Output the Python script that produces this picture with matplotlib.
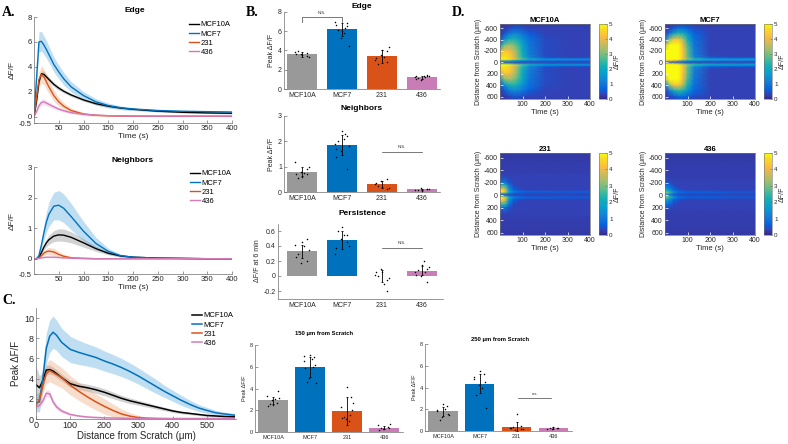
import numpy as np
import matplotlib
matplotlib.use("Agg")
import matplotlib.pyplot as plt
from matplotlib.colors import LinearSegmentedColormap

plt.rcParams["font.family"] = ["Liberation Sans", "DejaVu Sans"]
plt.rcParams["axes.unicode_minus"] = False

# ---------------- data ----------------
groups = ["MCF10A", "MCF7", "231", "436"]

# A: mean dF/F traces (+ SEM) vs time
t_s = [0, 5, 10, 15, 20, 25, 30, 40, 50, 60, 75, 100, 125, 150, 175, 200, 250, 300, 350, 400]

edge_10a = [0, 1.2, 2.8, 3.45, 3.4, 3.2, 3.0, 2.6, 2.3, 2.05, 1.75, 1.35, 1.05, 0.85, 0.7, 0.6, 0.45, 0.36, 0.31, 0.28]
edge_10a_sem = [0, 0.1, 0.2, 0.25, 0.25, 0.22, 0.2, 0.18, 0.16, 0.15, 0.13, 0.11, 0.1, 0.09, 0.08, 0.07, 0.06, 0.06, 0.05, 0.05]
edge_mcf7 = [0, 3.0, 6.0, 6.05, 5.75, 5.4, 5.0, 4.2, 3.6, 3.05, 2.4, 1.7, 1.2, 0.9, 0.72, 0.62, 0.5, 0.44, 0.41, 0.38]
edge_mcf7_sem = [0, 0.4, 0.8, 0.8, 0.75, 0.7, 0.65, 0.6, 0.55, 0.5, 0.42, 0.32, 0.25, 0.2, 0.15, 0.12, 0.1, 0.09, 0.08, 0.08]
edge_231 = [0, 1.5, 3.0, 3.4, 3.2, 2.8, 2.4, 1.7, 1.2, 0.85, 0.5, 0.22, 0.12, 0.08, 0.06, 0.05, 0.04, 0.04, 0.04, 0.04]
edge_231_sem = [0, 0.3, 0.6, 0.7, 0.65, 0.6, 0.55, 0.45, 0.35, 0.28, 0.2, 0.12, 0.08, 0.05, 0.04, 0.03, 0.03, 0.03, 0.03, 0.03]
edge_436 = [0, 0.4, 0.9, 1.15, 1.2, 1.1, 1.0, 0.8, 0.62, 0.48, 0.33, 0.2, 0.13, 0.09, 0.07, 0.06, 0.05, 0.05, 0.05, 0.05]
edge_436_sem = [0, 0.1, 0.2, 0.25, 0.25, 0.22, 0.2, 0.17, 0.14, 0.12, 0.09, 0.06, 0.04, 0.03, 0.03, 0.02, 0.02, 0.02, 0.02, 0.02]

nb_10a = [0, 0, 0.05, 0.2, 0.38, 0.52, 0.62, 0.74, 0.78, 0.77, 0.7, 0.52, 0.33, 0.18, 0.09, 0.05, 0.02, 0.01, 0, 0]
nb_10a_sem = [0, 0, 0.02, 0.07, 0.1, 0.13, 0.15, 0.18, 0.2, 0.2, 0.18, 0.14, 0.09, 0.05, 0.03, 0.02, 0.01, 0.01, 0, 0]
nb_mcf7 = [0, 0, 0.1, 0.45, 0.85, 1.2, 1.45, 1.72, 1.75, 1.65, 1.38, 0.9, 0.5, 0.24, 0.1, 0.05, 0.02, 0.01, 0, 0]
nb_mcf7_sem = [0, 0, 0.05, 0.15, 0.25, 0.33, 0.4, 0.45, 0.48, 0.47, 0.43, 0.32, 0.2, 0.1, 0.05, 0.03, 0.01, 0, 0, 0]
nb_231 = [0, 0, 0.03, 0.1, 0.18, 0.23, 0.25, 0.22, 0.14, 0.08, 0.03, 0.01, 0, 0, 0, 0, 0, 0, 0, 0]
nb_231_sem = [0, 0, 0.02, 0.05, 0.08, 0.1, 0.12, 0.12, 0.1, 0.07, 0.04, 0.02, 0.01, 0, 0, 0, 0, 0, 0, 0]
nb_436 = [0, 0, 0.01, 0.03, 0.04, 0.05, 0.05, 0.05, 0.04, 0.03, 0.02, 0.01, 0, 0, 0, 0, 0, 0, 0, 0]
nb_436_sem = [0, 0, 0.01, 0.02, 0.02, 0.02, 0.02, 0.02, 0.02, 0.02, 0.01, 0.01, 0, 0, 0, 0, 0, 0, 0, 0]

# C: peak dF/F vs distance from scratch
dist_um = [0, 10, 20, 30, 40, 50, 60, 75, 100, 125, 150, 175, 200, 225, 250, 275, 300, 325,
           350, 375, 400, 425, 450, 475, 500, 525, 550, 580]
pk_10a = [3.4, 3.1, 3.8, 4.85, 4.9, 4.75, 4.5, 4.1, 3.5, 3.25, 3.1, 2.9, 2.65, 2.35, 2.05, 1.8, 1.6, 1.4,
          1.2, 1.0, 0.8, 0.65, 0.55, 0.45, 0.35, 0.3, 0.25, 0.22]
pk_10a_sem = [1.8, 1.2, 0.8, 0.5, 0.45, 0.4, 0.4, 0.35, 0.35, 0.35, 0.35, 0.35, 0.35, 0.33, 0.3, 0.28, 0.25, 0.22,
              0.2, 0.18, 0.16, 0.14, 0.12, 0.1, 0.1, 0.08, 0.08, 0.08]
pk_mcf7 = [1.6, 1.7, 4.0, 7.0, 8.2, 8.6, 8.3, 7.6, 6.9, 6.6, 6.35, 6.1, 5.75, 5.45, 5.1, 4.7, 4.25, 3.75,
           3.25, 2.75, 2.3, 1.85, 1.45, 1.1, 0.85, 0.62, 0.5, 0.38]
pk_mcf7_sem = [0.9, 1.0, 1.3, 1.5, 1.6, 1.6, 1.5, 1.4, 1.3, 1.2, 1.1, 1.05, 1.0, 0.95, 0.9, 0.85, 0.8, 0.75,
               0.7, 0.6, 0.55, 0.5, 0.42, 0.35, 0.3, 0.25, 0.2, 0.18]
pk_231 = [1.4, 1.9, 3.3, 4.5, 4.8, 4.6, 4.4, 4.1, 3.35, 2.75, 2.2, 1.7, 1.25, 0.85, 0.5, 0.28, 0.14, 0.08,
          0.05, 0.03, 0.02, 0.02, 0.02, 0.02, 0.02, 0.02, 0.02, 0.02]
pk_231_sem = [0.4, 0.6, 0.8, 1.0, 1.1, 1.1, 1.05, 1.0, 0.95, 0.9, 0.85, 0.8, 0.75, 0.65, 0.5, 0.35, 0.22, 0.12,
              0.08, 0.05, 0.03, 0.02, 0.02, 0.02, 0.02, 0.02, 0.02, 0.02]
pk_436 = [1.2, 1.35, 1.8, 2.55, 2.5, 1.7, 1.2, 0.8, 0.45, 0.3, 0.2, 0.15, 0.12, 0.1, 0.08, 0.06, 0.05, 0.05,
          0.05, 0.05, 0.05, 0.05, 0.05, 0.05, 0.05, 0.05, 0.05, 0.05]
pk_436_sem = [0.2, 0.25, 0.3, 0.35, 0.35, 0.3, 0.25, 0.2, 0.12, 0.08, 0.06, 0.05, 0.04, 0.04, 0.03, 0.03, 0.03, 0.03,
              0.02, 0.02, 0.02, 0.02, 0.02, 0.02, 0.02, 0.02, 0.02, 0.02]

# B: bar means, SD and individual points
edge_bar = [3.6, 6.2, 3.4, 1.2]
edge_err = [0.25, 0.7, 0.7, 0.2]
edge_pts = [[3.5, 3.7, 3.8, 3.4, 3.6, 3.9, 3.3, 3.6],
            [6.0, 6.5, 7.0, 6.9, 5.3, 6.1, 4.5, 6.6, 5.8, 6.3],
            [4.1, 3.9, 3.0, 2.8, 3.5, 2.6, 4.4, 3.2, 3.3],
            [1.0, 1.4, 1.2, 1.5, 0.9, 1.1, 1.3, 1.0, 1.4, 1.2, 1.3]]
nb_bar = [0.8, 1.85, 0.3, 0.1]
nb_err = [0.18, 0.4, 0.15, 0.03]
nb_pts = [[0.6, 0.7, 1.2, 0.9, 0.8, 0.55, 1.0, 0.7, 0.75],
          [2.4, 2.2, 1.9, 0.9, 1.6, 2.0, 1.8, 1.4, 2.1, 2.3, 1.7],
          [0.2, 0.5, 0.3, 0.1, 0.45, 0.25, 0.15, 0.35],
          [0.05, 0.1, 0.08, 0.12, 0.15, 0.06, 0.1]]
per_bar = [0.33, 0.48, 0.0, 0.07]
per_err = [0.09, 0.12, 0.08, 0.06]
per_pts = [[0.45, 0.5, 0.42, 0.2, 0.17, 0.3, 0.35, 0.26, 0.4],
           [0.65, 0.55, 0.3, 0.45, 0.5, 0.6, 0.4, 0.38, 0.55],
           [0.05, -0.05, 0.02, -0.2, 0.1, 0.0, -0.02, 0.05, -0.1],
           [0.15, 0.1, 0.05, -0.08, 0.0, 0.08, 0.12, 0.02, 0.2, 0.06]]
d150_bar = [2.9, 6.0, 1.95, 0.4]
d150_err = [0.35, 0.9, 1.3, 0.15]
d150_pts = [[2.5, 2.7, 3.3, 3.8, 2.9, 2.6, 3.1, 2.4, 3.0],
            [7.1, 6.9, 6.5, 6.2, 5.0, 4.6, 4.5, 5.9, 6.7, 6.0, 7.0],
            [4.1, 3.2, 2.3, 2.0, 1.2, 1.4, 2.7, 1.3, 1.0, 1.6],
            [0.3, 0.5, 0.6, 0.4, 0.25, 0.35, 0.7, 0.2]]
d250_bar = [1.8, 4.35, 0.4, 0.25]
d250_err = [0.4, 0.9, 0.4, 0.1]
d250_pts = [[2.5, 2.3, 1.9, 1.6, 1.3, 1.0, 1.5, 1.8, 2.0],
            [5.5, 5.2, 5.0, 4.5, 4.2, 3.3, 2.1, 4.8, 4.0],
            [1.6, 0.5, 0.3, 0.2, 0.1, 0.4, 0.2, 0.3],
            [0.4, 0.3, 0.2, 0.25, 0.15, 0.3]]

# D: kymographs, coarse grid (rows = |distance| in um, cols = time in s)
hm_d = [0, 30, 50, 75, 100, 150, 200, 300, 400, 500, 600, 700]
hm_t = [0, 20, 40, 60, 80, 100, 130, 200, 300, 400]
hm_10a = [[0.4, 0.4, 0.4, 0.4, 0.3, 0.3, 0.3, 0.3, 0.3, 0.3],
          [3.0, 3.0, 2.8, 2.4, 2.0, 1.6, 1.3, 1.0, 0.9, 0.9],
          [5.0, 5.0, 4.8, 4.2, 3.5, 2.8, 2.2, 1.7, 1.6, 1.6],
          [4.8, 4.8, 4.6, 4.0, 3.2, 2.4, 1.4, 0.7, 0.5, 0.5],
          [4.6, 4.7, 4.5, 3.9, 3.0, 2.2, 1.2, 0.4, 0.3, 0.3],
          [4.2, 4.6, 4.4, 3.8, 3.0, 2.1, 1.1, 0.4, 0.3, 0.3],
          [3.4, 4.2, 4.1, 3.6, 2.9, 2.0, 1.1, 0.4, 0.3, 0.3],
          [1.6, 3.0, 3.3, 3.1, 2.6, 1.9, 1.0, 0.4, 0.3, 0.3],
          [0.5, 1.4, 2.2, 2.3, 2.0, 1.5, 0.9, 0.4, 0.3, 0.3],
          [0.2, 0.5, 1.0, 1.3, 1.2, 1.0, 0.6, 0.3, 0.3, 0.3],
          [0.2, 0.2, 0.3, 0.5, 0.5, 0.4, 0.3, 0.3, 0.3, 0.3],
          [0.2, 0.2, 0.2, 0.2, 0.2, 0.2, 0.2, 0.2, 0.2, 0.2]]
hm_mcf7 = [[0.5, 0.5, 0.5, 0.4, 0.4, 0.3, 0.3, 0.3, 0.3, 0.3],
           [4.5, 4.5, 4.3, 3.5, 2.8, 2.2, 1.7, 1.3, 1.2, 1.2],
           [5.0, 5.0, 5.0, 5.0, 4.2, 3.2, 2.5, 2.0, 1.9, 1.8],
           [5.0, 5.0, 5.0, 5.0, 4.2, 3.0, 1.6, 0.8, 0.7, 0.7],
           [5.0, 5.0, 5.0, 5.0, 4.2, 2.8, 1.2, 0.4, 0.3, 0.3],
           [5.0, 5.0, 5.0, 5.0, 4.2, 2.8, 1.1, 0.3, 0.3, 0.3],
           [5.0, 5.0, 5.0, 5.0, 4.2, 2.8, 1.1, 0.3, 0.3, 0.3],
           [3.8, 5.0, 5.0, 5.0, 4.0, 2.6, 1.0, 0.3, 0.3, 0.3],
           [1.0, 3.2, 4.2, 4.2, 3.4, 2.2, 0.9, 0.3, 0.3, 0.3],
           [0.3, 1.0, 2.0, 2.4, 2.2, 1.5, 0.7, 0.3, 0.3, 0.3],
           [0.2, 0.3, 0.5, 0.8, 0.8, 0.6, 0.4, 0.3, 0.3, 0.3],
           [0.2, 0.2, 0.2, 0.2, 0.2, 0.2, 0.2, 0.2, 0.2, 0.2]]
hm_231 = [[0.5, 0.5, 0.4, 0.3, 0.3, 0.3, 0.3, 0.3, 0.3, 0.3],
          [3.5, 3.0, 1.5, 0.9, 0.7, 0.6, 0.5, 0.5, 0.5, 0.5],
          [5.0, 4.5, 2.0, 1.1, 0.9, 0.8, 0.7, 0.7, 0.6, 0.6],
          [4.8, 4.0, 1.6, 0.7, 0.5, 0.4, 0.3, 0.3, 0.3, 0.3],
          [4.0, 3.5, 1.4, 0.6, 0.4, 0.3, 0.3, 0.3, 0.3, 0.3],
          [2.5, 2.5, 1.0, 0.4, 0.3, 0.3, 0.3, 0.3, 0.3, 0.3],
          [0.9, 1.0, 0.5, 0.3, 0.3, 0.3, 0.3, 0.3, 0.3, 0.3],
          [0.3, 0.3, 0.3, 0.3, 0.3, 0.3, 0.3, 0.3, 0.3, 0.3],
          [0.25, 0.25, 0.25, 0.25, 0.25, 0.25, 0.25, 0.25, 0.25, 0.25],
          [0.25, 0.25, 0.25, 0.25, 0.25, 0.25, 0.25, 0.25, 0.25, 0.25],
          [0.2, 0.2, 0.2, 0.2, 0.2, 0.2, 0.2, 0.2, 0.2, 0.2],
          [0.2, 0.2, 0.2, 0.2, 0.2, 0.2, 0.2, 0.2, 0.2, 0.2]]
hm_436 = [[1.5, 1.0, 0.5, 0.4, 0.3, 0.3, 0.3, 0.3, 0.3, 0.3],
          [3.5, 2.5, 1.2, 0.8, 0.7, 0.6, 0.6, 0.6, 0.5, 0.5],
          [3.0, 2.2, 1.2, 0.8, 0.7, 0.6, 0.6, 0.6, 0.5, 0.5],
          [2.2, 1.6, 0.8, 0.5, 0.4, 0.3, 0.3, 0.3, 0.3, 0.3],
          [1.6, 1.2, 0.6, 0.4, 0.3, 0.3, 0.3, 0.3, 0.3, 0.3],
          [0.9, 0.8, 0.4, 0.3, 0.3, 0.3, 0.3, 0.3, 0.3, 0.3],
          [0.4, 0.4, 0.3, 0.3, 0.3, 0.3, 0.3, 0.3, 0.3, 0.3],
          [0.25, 0.25, 0.25, 0.25, 0.25, 0.25, 0.25, 0.25, 0.25, 0.25],
          [0.25, 0.25, 0.25, 0.25, 0.25, 0.25, 0.25, 0.25, 0.25, 0.25],
          [0.25, 0.25, 0.25, 0.25, 0.25, 0.25, 0.25, 0.25, 0.25, 0.25],
          [0.2, 0.2, 0.2, 0.2, 0.2, 0.2, 0.2, 0.2, 0.2, 0.2],
          [0.2, 0.2, 0.2, 0.2, 0.2, 0.2, 0.2, 0.2, 0.2, 0.2]]

# ---------------- styling ----------------
line_colors = ["black", "#0072BD", "#D95319", "#D47AB8"]
fill_colors = ["#808080", "#4DA3DB", "#EDA070", "#E8A8D4"]
bar_colors = ["#999999", "#0072BD", "#D95319", "#C97DB6"]
axis_grey = "#707070"
text_dark = "#262626"

parula = LinearSegmentedColormap.from_list("parula", [
    (0.000, (0.2081, 0.1663, 0.5292)), (0.063, (0.1959, 0.2645, 0.7279)),
    (0.127, (0.0117, 0.3875, 0.8820)), (0.238, (0.0779, 0.5040, 0.8384)),
    (0.333, (0.0265, 0.6137, 0.8135)), (0.429, (0.0590, 0.6838, 0.7254)),
    (0.508, (0.2178, 0.7250, 0.6193)), (0.571, (0.3953, 0.7459, 0.5244)),
    (0.667, (0.6473, 0.7456, 0.4188)), (0.762, (0.8507, 0.7299, 0.3360)),
    (0.825, (0.9739, 0.7314, 0.2666)), (0.873, (0.9955, 0.7861, 0.1967)),
    (0.937, (0.9626, 0.8705, 0.1309)), (1.000, (0.9763, 0.9831, 0.0538))])

W, H = 788, 444
fig = plt.figure(figsize=(W / 100, H / 100), dpi=100)


def px_axes(x, top, w, h):
    return fig.add_axes([x / W, 1 - (top + h) / H, w / W, h / H])


def px_text(x, y, s, **kw):
    fig.text(x / W, 1 - y / H, s, **kw)


def open_axes(ax, fs):
    for s in ["top", "right"]:
        ax.spines[s].set_visible(False)
    for s in ["left", "bottom"]:
        ax.spines[s].set_color(axis_grey)
        ax.spines[s].set_linewidth(0.5)
    ax.tick_params(direction="in", length=2, width=0.5, labelsize=fs,
                   color=axis_grey, labelcolor=text_dark, pad=1.5)


def legend_at(ax, x, y):
    ax.legend(loc="upper left", bbox_to_anchor=(x / W, 1 - y / H), bbox_transform=fig.transFigure,
              frameon=False, fontsize=5.5, handlelength=1.3, handletextpad=0.2,
              labelspacing=0.25, borderpad=0, borderaxespad=0)


# ---------------- A: time courses ----------------
def trace_panel(ax, means, sems, ymax, yticks):
    t = np.array(t_s)
    for m, s, lc, fc, name in zip(means, sems, line_colors, fill_colors, groups):
        m, s = np.array(m), np.array(s)
        ax.fill_between(t, m - s, m + s, color=fc, alpha=0.35, lw=0)
        ax.plot(t, m, color=lc, lw=1.0, label=name)
    ax.set_xlim(0, 400)
    ax.set_ylim(-0.5, ymax)
    ax.set_xticks(range(50, 401, 50))
    ax.set_yticks(yticks)
    ax.set_yticklabels([f"{v:g}" for v in yticks])
    open_axes(ax, 5.5)
    ax.set_xlabel("Time (s)", fontsize=6, color=text_dark, labelpad=1)
    ax.set_ylabel("ΔF/F", fontsize=6, color=text_dark, labelpad=2)


axA1 = px_axes(34, 17, 198, 106)
trace_panel(axA1, [edge_10a, edge_mcf7, edge_231, edge_436],
            [edge_10a_sem, edge_mcf7_sem, edge_231_sem, edge_436_sem], 8, [-0.5, 0, 2, 4, 6, 8])
legend_at(axA1, 189, 21)
px_text(135, 11, "Edge", ha="center", va="center", fontsize=6, fontweight="bold")

axA2 = px_axes(34, 167, 198, 107)
trace_panel(axA2, [nb_10a, nb_mcf7, nb_231, nb_436],
            [nb_10a_sem, nb_mcf7_sem, nb_231_sem, nb_436_sem], 3, [-0.5, 0, 1, 2, 3])
legend_at(axA2, 190, 170)
px_text(133, 160, "Neighbors", ha="center", va="center", fontsize=6, fontweight="bold")

# ---------------- C: peak vs distance ----------------
axC = px_axes(36, 308, 200, 111)
d = np.array(dist_um)
for m, s, lc, fc, name in zip([pk_10a, pk_mcf7, pk_231, pk_436],
                              [pk_10a_sem, pk_mcf7_sem, pk_231_sem, pk_436_sem],
                              line_colors, fill_colors, groups):
    m, s = np.array(m), np.array(s)
    axC.fill_between(d, np.clip(m - s, 0, None), m + s, color=fc, alpha=0.35, lw=0)
    axC.plot(d, m, color=lc, lw=1.1, label=name)
axC.set_xlim(0, 585)
axC.set_ylim(0, 11)
axC.set_xticks(range(0, 501, 100))
axC.set_yticks(range(0, 11, 2))
open_axes(axC, 6.5)
axC.set_xlabel("Distance from Scratch (μm)", fontsize=7, color=text_dark, labelpad=1)
axC.set_ylabel("Peak ΔF/F", fontsize=7, color=text_dark, labelpad=2)
legend_at(axC, 192, 312)


# ---------------- B: bar charts ----------------
def bar_panel(ax, means, errs, pts, width, fs, ylab):
    xs = np.arange(1, 5)
    ax.bar(xs, means, width=width, color=bar_colors, edgecolor="none", zorder=1)
    for x, p in zip(xs, pts):
        off = 0.17 * np.sin(np.arange(len(p)) * 2.39996)
        ax.scatter(x + off, p, s=1.2, color="black", lw=0, zorder=3)
    ax.errorbar(xs, means, yerr=errs, fmt="none", ecolor="black", elinewidth=0.6,
                capsize=0.8, capthick=0.6, zorder=4)
    ax.set_xticks(xs)
    ax.set_xticklabels(groups)
    open_axes(ax, fs)
    ax.tick_params(axis="x", length=0, pad=2.5)
    ax.set_ylabel(ylab, fontsize=fs, color=text_dark, labelpad=2)


axB1 = px_axes(284, 12, 156, 77)
bar_panel(axB1, edge_bar, edge_err, edge_pts, 0.75, 5, "Peak ΔF/F")
axB1.set_xlim(0.55, 4.45)
axB1.set_ylim(0, 8)
axB1.set_yticks(range(0, 9, 2))
axB1.plot([1, 1, 2, 2], [7.0, 7.45, 7.45, 7.0], color="#444444", lw=0.5, clip_on=False)
axB1.text(1.5, 7.65, "N.S.", ha="center", va="bottom", fontsize=3, color=text_dark)
px_text(362, 6, "Edge", ha="center", va="center", fontsize=6, fontweight="bold")

axB2 = px_axes(284, 116, 156, 76)
bar_panel(axB2, nb_bar, nb_err, nb_pts, 0.75, 5, "Peak ΔF/F")
axB2.set_xlim(0.55, 4.45)
axB2.set_ylim(0, 3)
axB2.set_yticks([0, 1, 2, 3])
axB2.plot([3, 4], [1.58, 1.58], color="#444444", lw=0.5)
axB2.text(3.5, 1.68, "N.S.", ha="center", va="bottom", fontsize=3, color=text_dark)
px_text(362, 108, "Neighbors", ha="center", va="center", fontsize=6, fontweight="bold")

axB3 = px_axes(278, 223.5, 165, 75)
bar_panel(axB3, per_bar, per_err, per_pts, 0.75, 5, "ΔF/F at 6 min")
axB3.set_xlim(0.4, 4.525)
axB3.set_ylim(-0.3, 0.7)
axB3.set_yticks([-0.2, 0, 0.2, 0.4, 0.6])
axB3.set_yticklabels(["-0.2", "0", "0.2", "0.4", "0.6"])
axB3.plot([3, 4], [0.37, 0.37], color="#444444", lw=0.5)
axB3.text(3.5, 0.42, "N.S.", ha="center", va="bottom", fontsize=3, color=text_dark)
px_text(362, 213, "Persistence", ha="center", va="center", fontsize=6, fontweight="bold")

axB4 = px_axes(255, 345, 148, 87)
bar_panel(axB4, d150_bar, d150_err, d150_pts, 0.8, 4, "Peak ΔF/F")
axB4.set_xlim(0.51, 4.51)
axB4.set_ylim(0, 8)
axB4.set_yticks(range(0, 9, 2))
px_text(324, 334, "150 μm from Scratch", ha="center", va="center", fontsize=4.2, fontweight="bold")

axB5 = px_axes(425, 344, 147, 87)
bar_panel(axB5, d250_bar, d250_err, d250_pts, 0.8, 4, "Peak ΔF/F")
axB5.set_xlim(0.51, 4.51)
axB5.set_ylim(0, 8)
axB5.set_yticks(range(0, 9, 2))
axB5.plot([3.05, 3.95], [3.0, 3.0], color="#444444", lw=0.5)
axB5.text(3.5, 3.2, "n.s.", ha="center", va="bottom", fontsize=3, color=text_dark)
px_text(500, 339, "250 μm from Scratch", ha="center", va="center", fontsize=4.2, fontweight="bold")

# ---------------- D: kymographs ----------------
d_half = np.array(hm_d)
d_full = np.concatenate([-d_half[:0:-1], d_half])
boxes = [(500, 24, 75), (665, 24, 75), (500, 153, 82), (665, 153, 82)]
for grid, (x0, y0, h), title in zip([hm_10a, hm_mcf7, hm_231, hm_436], boxes, groups):
    z = np.array(grid)
    z_full = np.vstack([z[:0:-1], z])
    ax = px_axes(x0, y0, 90, h)
    mesh = ax.pcolormesh(hm_t, d_full, z_full, shading="gouraud", cmap=parula, vmin=0, vmax=5,
                         rasterized=True)
    ax.set_xlim(0, 400)
    ax.set_ylim(640, -672)
    ax.set_xticks([100, 200, 300, 400])
    ax.set_yticks(range(-600, 601, 200))
    for s in ax.spines.values():
        s.set_linewidth(0.5)
        s.set_color(axis_grey)
    ax.tick_params(direction="in", length=2, width=0.5, labelsize=5, color="white",
                   labelcolor=text_dark, pad=1.5)
    ax.set_xlabel("Time (s)", fontsize=5.5, color=text_dark, labelpad=1)
    ax.set_ylabel("Distance from Scratch (μm)", fontsize=5, color=text_dark, labelpad=1)
    ax.set_title(title, fontsize=5.5, fontweight="bold", pad=1.5)
    cax = px_axes(x0 + 99, y0, 8, h)
    cb = fig.colorbar(mesh, cax=cax, ticks=range(6))
    cb.outline.set_linewidth(0.4)
    cb.outline.set_edgecolor(axis_grey)
    cax.tick_params(labelsize=4.5, length=1.5, width=0.4, direction="in", pad=1.5,
                    color=axis_grey, labelcolor=text_dark)
    cb.set_label("ΔF/F", fontsize=5, color=text_dark, labelpad=1)

# ---------------- panel letters ----------------
for s, (x, y) in zip(["A.", "B.", "C.", "D."], [(2, 12), (246, 13), (2, 300), (452, 12)]):
    px_text(x, y, s, ha="left", va="center", fontsize=10, fontweight="bold",
            family=["Liberation Serif", "DejaVu Serif"])

fig.savefig("out.png", dpi=100)
